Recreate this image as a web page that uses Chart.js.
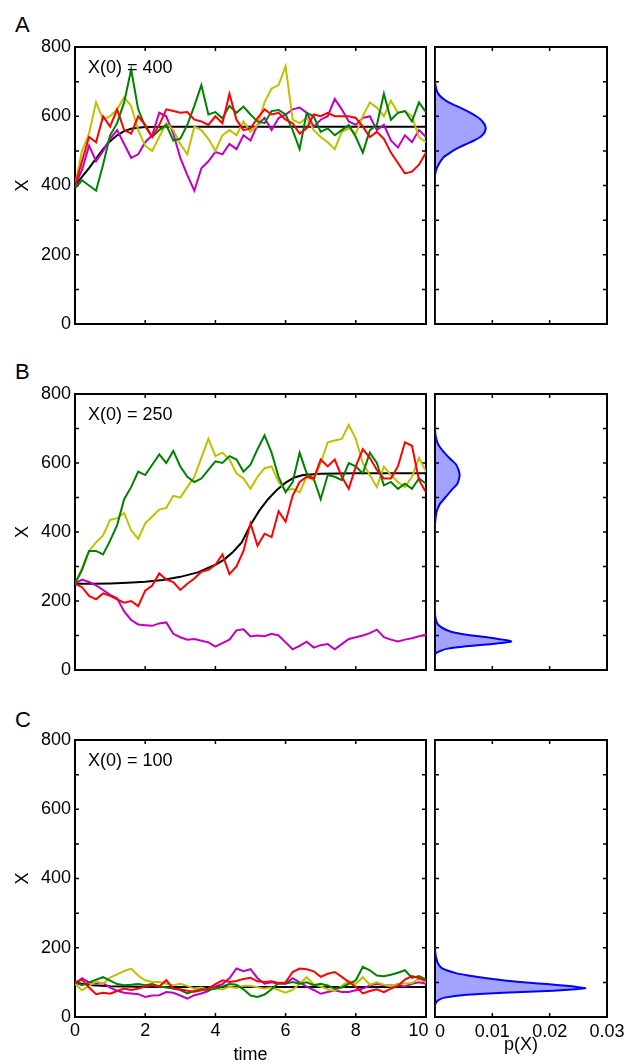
<!DOCTYPE html>
<html>
<head>
<meta charset="utf-8">
<script src="https://cdn.jsdelivr.net/npm/chart.js@4.4.1/dist/chart.umd.min.js"></script>
<style>
  body { margin: 0; background: #fff; }
  #wrap { position: relative; width: 625px; height: 1064px; overflow: hidden; font-family: "Liberation Sans", Arial, sans-serif; }
  canvas { position: absolute; }
  .panel { position: absolute; left: 15px; font-size: 22px; line-height: 22px; color: #000; }
</style>
</head>
<body>
<div id="wrap">
  <div class="panel" style="top:14px">A</div>
  <div class="panel" style="top:361px">B</div>
  <div class="panel" style="top:709px">C</div>
  <canvas id="mainA" width="445" height="334" style="left:0;top:0"></canvas>
  <canvas id="sideA" width="205" height="334" style="left:420px;top:0"></canvas>
  <canvas id="mainB" width="445" height="330" style="left:0;top:350px"></canvas>
  <canvas id="sideB" width="205" height="330" style="left:420px;top:350px"></canvas>
  <canvas id="mainC" width="445" height="364" style="left:0;top:700px"></canvas>
  <canvas id="sideC" width="205" height="364" style="left:420px;top:700px"></canvas>
</div>
<script>
// time grid shared by all trajectories
const times = [0,0.2,0.4,0.6,0.8,1,1.2,1.4,1.6,1.8,2,2.2,2.4,2.6,2.8,3,3.2,3.4,3.6,3.8,4,4.2,4.4,4.6,4.8,5,5.2,5.4,5.6,5.8,6,6.2,6.4,6.6,6.8,7,7.2,7.4,7.6,7.8,8,8.2,8.4,8.6,8.8,9,9.2,9.4,9.6,9.8,10];

// panel A, X(0) = 400
const aGreen = [392,415,400,385,460,545,580,640,735,620,570,540,560,575,530,535,575,630,690,605,612,594,630,610,628,605,585,580,615,618,605,560,505,610,600,555,565,545,560,575,540,495,560,575,665,590,610,615,585,640,612];
const aYellow = [400,500,550,640,590,600,620,655,630,560,515,500,540,580,560,520,490,570,560,535,500,545,560,545,585,555,575,640,680,690,745,590,580,595,560,540,525,505,555,565,550,600,640,625,600,645,610,615,600,540,525];
const aMagenta = [400,445,515,470,500,535,560,520,480,490,525,545,610,600,550,480,430,385,450,470,497,490,520,505,545,530,575,595,560,595,605,620,625,610,570,590,600,650,620,585,575,595,600,560,575,530,510,545,525,560,540];
const aRed = [400,470,540,525,600,570,620,560,550,600,575,540,575,620,615,610,612,590,585,575,600,580,665,590,560,565,595,620,605,610,590,580,550,565,605,600,610,600,600,600,595,570,540,555,535,495,465,435,440,460,495];
const aMeanT = [0,0.2,0.4,0.6,0.8,1,1.2,1.4,1.6,1.8,2,2.5,3,4,5,6,7,8,9,10];
const aMean = [400,425,450,478,505,528,545,557,564,567,569,570,570,570,570,570,570,570,570,570];

// panel B, X(0) = 250
const bGreen = [250,290,345,345,335,375,420,495,530,575,565,595,625,600,635,590,560,545,555,580,605,600,620,610,575,595,640,680,630,560,515,545,630,570,555,495,565,560,550,600,590,570,630,600,535,545,525,540,525,555,540];
const bYellow = [250,295,345,370,390,435,440,455,405,380,425,445,465,470,505,500,530,560,615,670,620,630,610,570,555,525,560,585,590,545,520,525,515,560,550,600,660,665,670,710,670,600,565,530,590,565,545,530,560,615,575];
const bMagenta = [250,262,255,245,232,218,208,170,145,132,130,128,135,138,105,95,88,90,85,80,68,78,88,115,118,97,100,98,105,100,80,60,70,82,65,72,75,60,75,90,95,100,107,117,95,88,83,88,92,98,102];
const bRed = [250,240,215,205,222,215,205,195,200,185,230,245,280,262,255,232,250,265,285,290,305,335,278,300,345,425,360,395,385,460,430,505,545,560,555,610,590,610,560,525,590,640,615,580,555,555,590,660,650,550,515];
const bMeanT = [0,0.5,1,1.5,2,2.5,3,3.5,4,4.25,4.5,4.75,5,5.25,5.5,5.75,6,6.25,6.5,7,8,9,10];
const bMean = [250,250,251,253,256,261,270,283,305,320,342,370,420,462,495,522,543,558,565,569,570,570,570];

// panel C, X(0) = 100
const cGreen = [100,92,100,108,115,105,95,92,93,95,92,95,88,85,82,78,68,75,80,78,82,88,95,93,80,62,58,65,80,98,97,101,96,100,92,96,91,82,85,96,106,145,135,120,118,122,128,135,113,118,108];
const cYellow = [96,77,90,103,96,114,123,133,140,120,106,101,101,96,92,96,90,82,85,79,82,80,87,84,90,90,86,82,85,78,70,78,96,115,95,88,80,75,90,104,96,115,93,100,93,88,96,97,98,110,100];
const cMagenta = [96,112,100,97,98,85,76,70,68,66,58,62,63,72,70,62,53,63,68,75,88,95,112,140,132,138,112,96,100,96,96,112,100,88,78,67,72,77,72,72,77,82,91,96,92,91,92,88,96,100,96];
const cRed = [100,108,85,66,70,67,75,82,78,82,88,92,88,106,82,80,76,73,77,82,95,106,101,104,110,113,103,101,103,98,100,130,140,138,132,116,125,130,116,101,87,68,75,80,72,82,90,108,118,112,105];
const cMeanT = [0,0.2,0.5,1,1.5,2,3,4,6,8,10];
const cMean = [100,96,92,89,88,87,87,87,87,87,87];

// stationary densities p(X)
const densAX = [0,420,440,460,480,490,500,510,520,530,540,550,560,570,580,590,600,610,620,630,640,650,660,670,680,700,800];
const densAP = [0,0,0.0001,0.0006,0.0014,0.0022,0.0031,0.0042,0.0055,0.0068,0.0079,0.0085,0.0088,0.0088,0.0085,0.0080,0.0072,0.0062,0.0050,0.0037,0.0024,0.0015,0.0008,0.0004,0.0002,0,0];
const densBX = [0,40,48,55,62,68,74,79,83,88,93,100,108,116,125,135,150,170,420,440,460,480,490,500,520,540,555,565,580,595,610,625,645,660,680,700,800];
const densBP = [0,0,0.0001,0.0009,0.0022,0.0050,0.0090,0.0120,0.0133,0.0118,0.0100,0.0065,0.0035,0.0020,0.0010,0.0004,0.0001,0,0,0.0001,0.0003,0.0008,0.0013,0.0018,0.0028,0.0039,0.0042,0.0043,0.0041,0.0037,0.0028,0.0019,0.0009,0.0004,0.0001,0,0];
const densCX = [0,35,42,49,56,64,70,76,80,83,86,90,95,99,105,112,120,126,135,141,150,160,180,200,800];
const densCP = [0,0,0.0002,0.0006,0.0017,0.0055,0.0119,0.0206,0.0245,0.0262,0.0250,0.0229,0.0195,0.0165,0.0125,0.0090,0.0058,0.0038,0.0020,0.0012,0.0007,0.0004,0.0001,0,0];

const startLabels = ['X(0) = 400', 'X(0) = 250', 'X(0) = 100'];
const timeTicks = { min: 0, max: 10, step: 2 };
const pTicks = { min: 0, max: 0.03, step: 0.01 };

const FONT = '"Liberation Sans", Arial, sans-serif';
Chart.defaults.font.family = FONT;
Chart.defaults.font.size = 18;
Chart.defaults.color = '#000';

// matlab-ish box: frame plus inward ticks on all four sides
const boxPlugin = {
  id: 'box',
  beforeDatasetsDraw(chart) {
    const { ctx, chartArea: a, scales: { x, y } } = chart;
    const len = 4;
    ctx.save();
    ctx.strokeStyle = '#000';
    ctx.lineWidth = 1.5;
    ctx.beginPath();
    x.ticks.forEach(t => {
      const px = x.getPixelForValue(t.value);
      if (px <= a.left + 1 || px >= a.right - 1) return;
      ctx.moveTo(px, a.bottom); ctx.lineTo(px, a.bottom - len);
      ctx.moveTo(px, a.top); ctx.lineTo(px, a.top + len);
    });
    y.ticks.forEach(t => {
      const py = y.getPixelForValue(t.value);
      if (py <= a.top + 1 || py >= a.bottom - 1) return;
      ctx.moveTo(a.left, py); ctx.lineTo(a.left + len, py);
      ctx.moveTo(a.right, py); ctx.lineTo(a.right - len, py);
    });
    ctx.stroke();
    ctx.lineWidth = 2;
    ctx.strokeRect(a.left, a.top, a.right - a.left, a.bottom - a.top);
    ctx.restore();
  },
  afterDraw(chart, args, opts) {
    if (!opts.note) return;
    const { ctx, chartArea: a } = chart;
    ctx.save();
    ctx.fillStyle = '#000';
    ctx.font = '18px ' + FONT;
    ctx.textBaseline = 'middle';
    ctx.fillText(opts.note, a.left + 13, a.top + 21);
    ctx.restore();
  }
};

function line(xs, ys, color) {
  return {
    data: xs.map((t, i) => ({ x: t, y: ys[i] })),
    borderColor: color, borderWidth: 2, pointRadius: 0, tension: 0, fill: false
  };
}

const noGrid = { display: false, drawTicks: false };

function makeMain(id, padTop, xHeight, tr, meanT, mean, note, showX) {
  // first dataset ends up on top
  const datasets = [
    line(times, tr.red, '#ff0000'),
    line(times, tr.green, '#008000'),
    line(times, tr.yellow, '#c0c000'),
    line(times, tr.magenta, '#c000c0'),
    line(meanT, mean, '#000000')
  ];
  return new Chart(document.getElementById(id), {
    type: 'line',
    data: { datasets },
    options: {
      responsive: false, animation: false, devicePixelRatio: 1,
      layout: { padding: { top: padTop, right: 19, left: 0, bottom: 0 } },
      plugins: { legend: { display: false }, tooltip: { enabled: false }, box: { note } },
      scales: {
        x: {
          type: 'linear', min: timeTicks.min, max: timeTicks.max,
          grid: noGrid, border: { display: false },
          // last label nudged left so it clears the density panel's "0"
          ticks: { stepSize: timeTicks.step, display: showX, padding: 3, maxRotation: 0, autoSkip: false,
                   callback: v => (v === timeTicks.max ? v + '   ' : String(v)) },
          title: { display: showX, text: 'time', font: { size: 18, lineHeight: 1 }, padding: { top: 0, bottom: 0 } },
          afterFit: s => { s.height = xHeight; s.paddingLeft = 0; s.paddingRight = 0; }
        },
        y: {
          type: 'linear', min: 0, max: 800,
          grid: noGrid, border: { display: false },
          ticks: { stepSize: 100, autoSkip: false, padding: 4, callback: v => (v % 200 === 0 ? String(v) : '') },
          title: { display: true, text: 'X', font: { size: 18, lineHeight: 1 }, padding: { top: 14, bottom: 0 } },
          afterFit: s => { s.width = 75; s.paddingTop = 0; s.paddingBottom = 0; }
        }
      }
    },
    plugins: [boxPlugin]
  });
}

function makeSide(id, padTop, xHeight, dx, dp, showX) {
  return new Chart(document.getElementById(id), {
    type: 'line',
    data: {
      datasets: [{
        data: dx.map((v, i) => ({ x: dp[i], y: v })),
        borderColor: '#0000ff', borderWidth: 2,
        backgroundColor: 'rgba(0,0,255,0.36)', fill: 'origin',
        pointRadius: 0, tension: 0.3
      }]
    },
    options: {
      indexAxis: 'y',
      responsive: false, animation: false, devicePixelRatio: 1,
      layout: { padding: { top: padTop, right: 18, left: 15, bottom: 0 } },
      plugins: { legend: { display: false }, tooltip: { enabled: false } },
      scales: {
        x: {
          type: 'linear', min: pTicks.min, max: pTicks.max,
          grid: noGrid, border: { display: false },
          ticks: { stepSize: pTicks.step, display: showX, padding: 4, maxRotation: 0, autoSkip: false,
                   callback: v => (v === 0 ? '  0' : v.toFixed(2)) },
          title: { display: showX, text: 'p(X)', font: { size: 18, lineHeight: 1 }, padding: { top: 0, bottom: 10 } },
          afterFit: s => { s.height = xHeight; s.paddingLeft = 0; s.paddingRight = 0; }
        },
        y: {
          type: 'linear', min: 0, max: 800,
          grid: noGrid, border: { display: false },
          ticks: { stepSize: 100, display: false },
          afterFit: s => { s.width = 0; s.paddingTop = 0; s.paddingBottom = 0; }
        }
      }
    },
    plugins: [boxPlugin]
  });
}

makeMain('mainA', 47, 10, { green: aGreen, yellow: aYellow, magenta: aMagenta, red: aRed }, aMeanT, aMean, startLabels[0], false);
makeMain('mainB', 44, 10, { green: bGreen, yellow: bYellow, magenta: bMagenta, red: bRed }, bMeanT, bMean, startLabels[1], false);
makeMain('mainC', 40, 47, { green: cGreen, yellow: cYellow, magenta: cMagenta, red: cRed }, cMeanT, cMean, startLabels[2], true);

makeSide('sideA', 47, 10, densAX, densAP, false);
makeSide('sideB', 44, 10, densBX, densBP, false);
makeSide('sideC', 40, 47, densCX, densCP, true);
</script>
</body>
</html>
